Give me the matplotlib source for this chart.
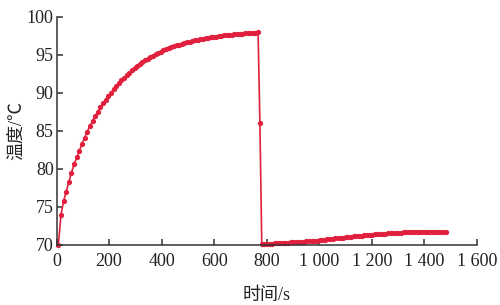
import numpy as np
import matplotlib
matplotlib.use("Agg")
import matplotlib.pyplot as plt
from matplotlib.ticker import FuncFormatter

# heating phase (s, degC), sampled ~10 s
heat_t = np.arange(7, 768, 10)
heat_T = [70.0, 73.9, 75.8, 77.0, 78.3, 79.5, 80.6, 81.5, 82.4, 83.3,
          84.1, 84.9, 85.6, 86.3, 86.9, 87.5, 88.1, 88.6, 89.1, 89.6,
          90.0, 90.45, 90.87, 91.28, 91.65, 92.01, 92.35, 92.67, 92.98, 93.26,
          93.54, 93.79, 94.04, 94.27, 94.49, 94.69, 94.89, 95.07, 95.25, 95.41,
          95.57, 95.72, 95.85, 95.99, 96.11, 96.23, 96.34, 96.45, 96.55, 96.64,
          96.73, 96.82, 96.90, 96.97, 97.04, 97.11, 97.18, 97.24, 97.30, 97.35,
          97.40, 97.45, 97.50, 97.54, 97.58, 97.62, 97.66, 97.69, 97.72, 97.76,
          97.78, 97.81, 97.84, 97.86, 97.89, 97.91, 97.95]

# transition
drop_t = [774]
drop_T = [86.0]

# cooled phase
cool_t = np.arange(781, 1482, 10)
cool_T = [70.10, 70.12, 70.14, 70.16, 70.18, 70.20, 70.22, 70.24, 70.26, 70.28,
          70.30, 70.32, 70.34, 70.36, 70.38, 70.40, 70.42, 70.45, 70.48, 70.51,
          70.54, 70.57, 70.61, 70.65, 70.69, 70.73, 70.77, 70.81, 70.85, 70.89,
          70.93, 70.97, 71.01, 71.05, 71.09, 71.13, 71.17, 71.20, 71.23, 71.26,
          71.29, 71.32, 71.35, 71.38, 71.41, 71.44, 71.47, 71.50, 71.52, 71.54,
          71.56, 71.58, 71.60, 71.62, 71.64, 71.66, 71.68, 71.69, 71.70, 71.71,
          71.72, 71.72, 71.73, 71.73, 71.73, 71.72, 71.72, 71.71, 71.70, 71.70,
          71.69]

xticks = [0, 200, 400, 600, 800, 1000, 1200, 1400, 1600]
yticks = [70, 75, 80, 85, 90, 95, 100]

t_all = np.concatenate([heat_t, drop_t, cool_t])
T_all = np.concatenate([heat_T, drop_T, cool_T])

fam = ['Liberation Serif', 'Noto Sans CJK SC']
plt.rcParams['font.family'] = fam

fig = plt.figure(figsize=(5.0, 3.05), dpi=100)
ax = fig.add_axes([0.113, 0.197, 0.841, 0.748])
red = '#e0203c'
ax.plot(t_all, T_all, color=red, lw=1.2, marker='o', ms=3.8,
        mfc=red, mec=red, mew=0, clip_on=False)

ax.set_xlim(0, 1600)
ax.set_ylim(70, 100)
ax.set_xticks(xticks)
ax.set_yticks(yticks)

def fmt(v, pos):
    v = int(round(v))
    if v >= 1000:
        return f"{v // 1000} {v % 1000:03d}"
    return str(v)

ax.xaxis.set_major_formatter(FuncFormatter(fmt))
for s in ['top', 'right']:
    ax.spines[s].set_visible(False)
for s in ['left', 'bottom']:
    ax.spines[s].set_color('#333333')
    ax.spines[s].set_linewidth(1.1)
ax.tick_params(direction='in', length=4, width=1.1, color='#333333',
               labelsize=13, labelcolor='#222222')
ax.tick_params(axis='x', pad=6)
ax.tick_params(axis='y', pad=2)
ax.set_xlabel('时间/s', fontsize=13, labelpad=12, color='#222222')
ax.set_ylabel('温度/℃', fontsize=13, labelpad=1, color='#222222')

fig.savefig('out.png', dpi=100)
